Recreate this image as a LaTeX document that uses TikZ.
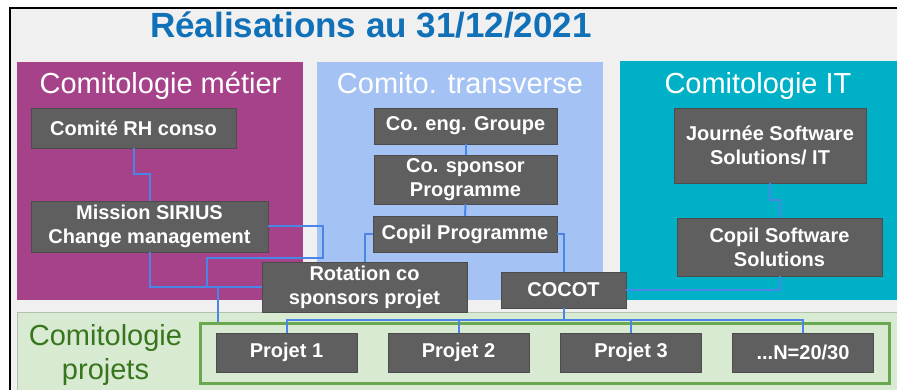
\documentclass[tikz,border=0pt]{standalone}
\usepackage{fontspec}
\setmainfont{Liberation Sans}
\usetikzlibrary{positioning}

\definecolor{framebg}{HTML}{F0F0F0}
\definecolor{titleblue}{HTML}{1070B8}
\definecolor{metier}{HTML}{A6428A}
\definecolor{transverse}{HTML}{A4C2F4}
\definecolor{itteal}{HTML}{00B0C6}
\definecolor{projfill}{HTML}{D9EAD3}
\definecolor{projtext}{HTML}{38761D}
\definecolor{projline}{HTML}{6AA84F}
\definecolor{boxgray}{HTML}{5F5F5F}
\definecolor{linkblue}{HTML}{4A86E8}

\tikzset{
  cbox/.style={fill=boxgray, draw=boxgray!80!black, line width=0.4pt, text=white,
    font=\bfseries\fontsize{20}{24}\selectfont, align=center, inner sep=0pt},
  paneltitle/.style={anchor=base, text=white, font=\fontsize{29}{34}\selectfont},
  link/.style={draw=linkblue, line width=2pt},
}

\begin{document}
\begin{tikzpicture}[x=1pt, y=-1pt]
      \useasboundingbox (0,0) rectangle (897,390);
      % Frame and title
      \draw[black, line width=1.8pt, fill=framebg] (10,8) rectangle (905,400);
      \node[anchor=base, text=titleblue, font=\bfseries\fontsize{35}{40}\selectfont] (titre) at (371,38) {Réalisations au 31/12/2021};

      % Panels
      \fill[metier] (17,62) rectangle (303,300);
      \fill[transverse] (317,62) rectangle (603,300);
      \fill[itteal] (620,61) rectangle (905,300);
      \draw[projfill!60!gray, fill=projfill] (17,312) rectangle (905,400);
      \node[paneltitle] (tmetier) at (160.5,94) {Comitologie métier};
      \node[paneltitle] (ttransverse) at (460,94) {Comito. transverse};
      \node[paneltitle] (tit) at (758,94) {Comitologie IT};
      \node[text=projtext, align=center, inner sep=0pt, font=\fontsize{29}{34}\selectfont] (tprojets) at (105.5,355) {Comitologie\\projets};
      \node[draw=projline, line width=3pt, minimum width=689pt, minimum height=60pt, inner sep=0pt] (groupe) at (544.5,353) {};

      % Committees
      \node[cbox, minimum width=205pt, minimum height=40pt] (rhconso) at (133.5,128) {Comité RH conso};
      \node[cbox, minimum width=237pt, minimum height=51pt] (sirius) at (149.5,226.5) {Mission SIRIUS\\Change management};
      \node[cbox, minimum width=183pt, minimum height=36pt] (coeng) at (465.5,126) {Co. eng. Groupe};
      \node[cbox, minimum width=183pt, minimum height=49pt] (cosponsor) at (465.5,179.5) {Co. sponsor\\Programme};
      \node[cbox, minimum width=184pt, minimum height=36pt] (copilprog) at (465,234) {Copil Programme};
      \node[cbox, minimum width=192pt, minimum height=75pt] (journee) at (770,145.5) {Journée Software\\Solutions/ IT};
      \node[cbox, minimum width=205pt, minimum height=58pt] (copilss) at (779.5,247) {Copil Software\\Solutions};

      % Links
      \draw[link] (rhconso.south) -- ++(0,26) -| (sirius.north);
      \draw[link] (coeng.south) -- (cosponsor.north);
      \draw[link] (cosponsor.south) -- (copilprog.north);
      \draw[link] (journee.south) -- ++(0,17) -| (copilss.north);
      \coordinate (j1) at (207,287);
      \coordinate (j2) at (218,287);
      \coordinate (bus) at (563.5,320);
      \draw[link] (sirius.east) -| ++(55,32) -| (j1);
      \draw[link] (j2) -- (j2 |- groupe.north);

      % Project level
      \node[cbox, minimum width=205pt, minimum height=50pt] (rotation) at (364.5,287) {Rotation co\\sponsors projet};
      \node[cbox, minimum width=125pt, minimum height=36pt] (cocot) at (563.5,290) {COCOT};
      \node[cbox, minimum width=141pt, minimum height=39pt] (p1) at (286.5,352.5) {Projet 1};
      \node[cbox, minimum width=141pt, minimum height=39pt] (p2) at (458.5,352.5) {Projet 2};
      \node[cbox, minimum width=141pt, minimum height=39pt] (p3) at (631,352.5) {Projet 3};
      \node[cbox, minimum width=141pt, minimum height=39pt] (pn) at (803,352.5) {...N=20/30};

      \draw[link] (sirius.south) |- (rotation.west);
      \draw[link] (copilprog.west) -| (rotation.north);
      \draw[link] (copilprog.east) -| (cocot.north);
      \draw[link] (copilss.south) |- (cocot.east);
      \draw[link] (cocot.south) -- (bus);
      \foreach \p in {p1,p2,p3,pn}
        \draw[link] (\p.north) |- (bus);
    \end{tikzpicture}
\end{document}
